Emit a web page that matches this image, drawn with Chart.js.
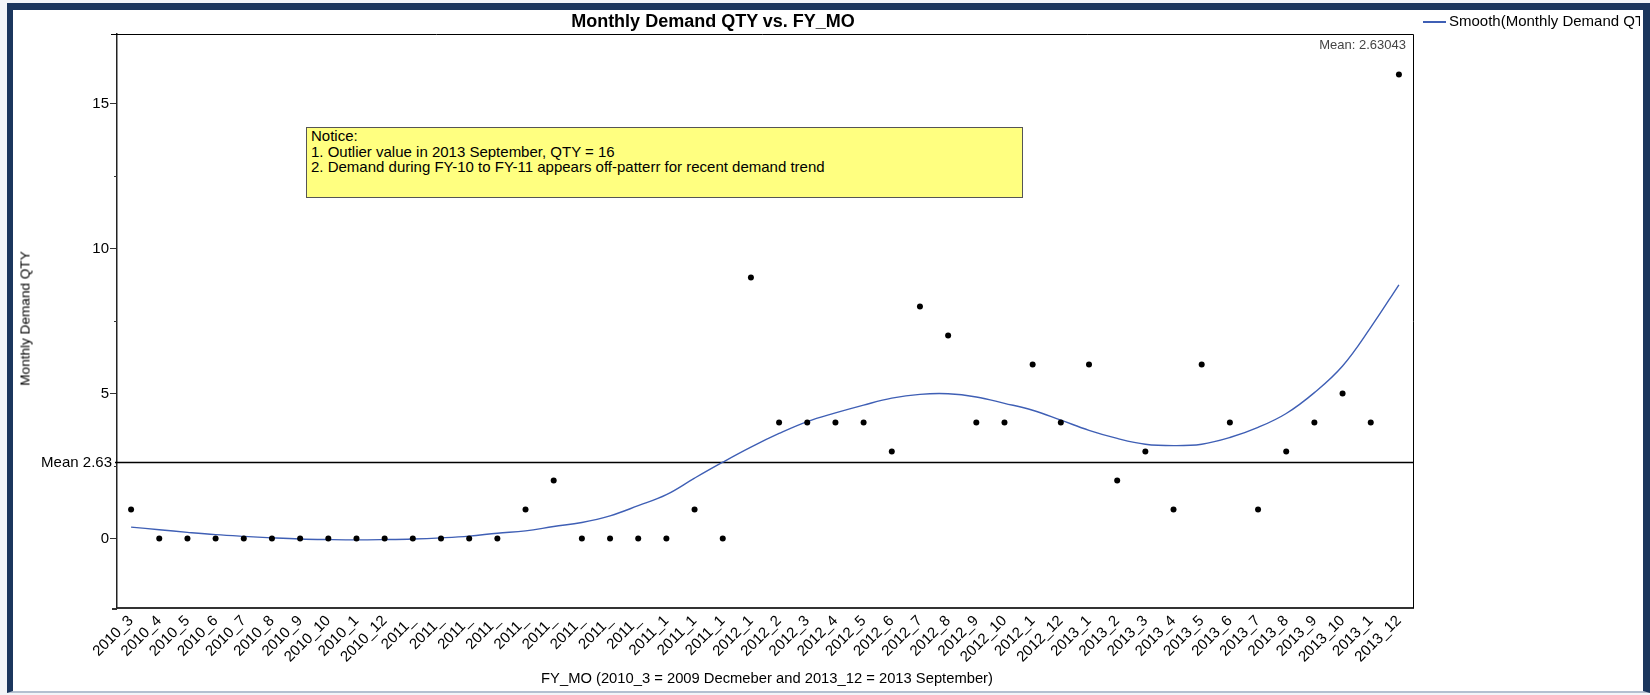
<!DOCTYPE html>
<html>
<head>
<meta charset="utf-8">
<script src="https://cdn.jsdelivr.net/npm/chart.js@4.4.1/dist/chart.umd.min.js"></script>
<style>
    html, body { margin: 0; padding: 0; background: #f3f5f8; }
    body { width: 1650px; height: 695px; position: relative; overflow: hidden; font-family: 'Liberation Sans', Arial, sans-serif; }
    #frame { position: absolute; left: 7px; top: 3px; width: 1630px; height: 681px; background: #fff;
             border-left: 6px solid #1b365d; border-top: 7px solid #1b365d; border-right: 7px solid #1b365d; border-bottom: 2px solid #b4c0d0; }
    #chart { position: absolute; left: 0; top: 0; }
    .txt { position: absolute; color: #000; white-space: nowrap; }
    #title { left: 413px; width: 600px; top: 11px; text-align: center; font-weight: bold; font-size: 18px; }
    #xtitle { left: 467px; width: 600px; top: 670px; text-align: center; font-size: 14.75px; }
    #ytitle { left: -125px; width: 300px; top: 311px; text-align: center; font-size: 13.6px; transform: rotate(-90deg); }
    #meanlbl { right: 244px; top: 37px; font-size: 13px; color: #444; }
    #legend { left: 1423px; top: 12px; width: 217px; overflow: hidden; font-size: 15px; }
    #legend .ln { display: inline-block; width: 23px; height: 1.5px; background: #3f5fb5; vertical-align: middle; margin-right: 3px; }
    #notice { position: absolute; left: 306px; top: 127px; width: 711px; height: 69px; background: #ffff80;
              border: 1px solid #555; padding: 0 0 0 4px; font-size: 15px; line-height: 15.5px; }
</style>
</head>
<body>
<div id="frame"></div>
<canvas id="chart" width="1650" height="695"></canvas>
<div class="txt" id="title">Monthly Demand QTY vs. FY_MO</div>
<div class="txt" id="xtitle">FY_MO (2010_3 = 2009 Decmeber and 2013_12 = 2013 September)</div>
<div class="txt" id="ytitle">Monthly Demand QTY</div>
<div class="txt" id="meanlbl">Mean: 2.63043</div>
<div class="txt" id="legend"><span class="ln"></span>Smooth(Monthly Demand QTY)</div>
<div id="notice">Notice:<br>1. Outlier value in 2013 September, QTY = 16<br>2. Demand during FY-10 to FY-11 appears off-patterr for recent demand trend</div>
<script>
// Categories as printed on the axis (some labels are cut short in the source)
const fyMonths = [
    '2010_3', '2010_4', '2010_5', '2010_6', '2010_7', '2010_8', '2010_9', '2010_10', '2010_1', '2010_12',
    '2011_', '2011_', '2011_', '2011_', '2011_', '2011_', '2011_', '2011_', '2011_', '2011_1', '2011_1', '2011_1',
    '2012_1', '2012_2', '2012_3', '2012_4', '2012_5', '2012_6', '2012_7', '2012_8', '2012_9', '2012_10', '2012_1', '2012_12',
    '2013_1', '2013_2', '2013_3', '2013_4', '2013_5', '2013_6', '2013_7', '2013_8', '2013_9', '2013_10', '2013_1', '2013_12'
];

const demandQty = [
    1, 0, 0, 0, 0, 0, 0, 0, 0, 0,
    0, 0, 0, 0, 1, 2, 0, 0, 0, 0, 1, 0,
    9, 4, 4, 4, 4, 3, 8, 7, 4, 4, 6, 4,
    6, 2, 3, 1, 6, 4, 1, 3, 4, 5, 4, 16
];

// Smooth(Monthly Demand QTY) read at each month
const smoothQty = [
    0.39, 0.30, 0.21, 0.13, 0.07, 0.02, -0.02, -0.04, -0.05, -0.04,
    -0.02, 0.02, 0.08, 0.18, 0.26, 0.41, 0.55, 0.78, 1.13, 1.51, 2.08, 2.63,
    3.15, 3.62, 4.03, 4.33, 4.60, 4.84, 4.97, 4.99, 4.88, 4.66, 4.42, 4.08,
    3.73, 3.45, 3.25, 3.20, 3.25, 3.48, 3.83, 4.31, 5.03, 5.95, 7.28, 8.75
];

const meanQty = 2.63043;
const meanLabel = 'Mean 2.63';
const yTickValues = [0, 2.5, 5, 7.5, 10, 12.5, 15];

const FONT = "'Liberation Sans', Arial, sans-serif";

// plot frame, mean reference line, minor ticks and mean label
const framePlugin = {
    id: 'plotFrame',
    beforeDatasetsDraw(chart) {
        const { ctx, chartArea: a, scales: { y } } = chart;
        ctx.save();
        const my = Math.round(y.getPixelForValue(meanQty)) + 0.5;
        ctx.strokeStyle = '#000';
        ctx.lineWidth = 1.5;
        ctx.beginPath();
        ctx.moveTo(a.left - 2, my);
        ctx.lineTo(a.right, my);
        ctx.stroke();

        ctx.lineWidth = 1;
        ctx.beginPath();
        ctx.moveTo(a.left - 6, a.top + 0.5);
        ctx.lineTo(a.right + 0.5, a.top + 0.5);
        ctx.lineTo(a.right + 0.5, a.bottom);
        ctx.stroke();

        // axis line runs a little past the y axis
        ctx.strokeStyle = '#333';
        ctx.lineWidth = 2;
        ctx.beginPath();
        ctx.moveTo(a.left - 5, a.bottom + 1);
        ctx.lineTo(a.left, a.bottom + 1);
        ctx.stroke();

        // short minor ticks
        ctx.lineWidth = 1;
        y.ticks.forEach((t) => {
            if (t.value % 5 === 0) return;
            const py = Math.round(y.getPixelForValue(t.value)) + 0.5;
            ctx.beginPath();
            ctx.moveTo(a.left - 3, py);
            ctx.lineTo(a.left, py);
            ctx.stroke();
        });

        ctx.fillStyle = '#000';
        ctx.font = '15px ' + FONT;
        ctx.textAlign = 'right';
        ctx.textBaseline = 'middle';
        ctx.fillText(meanLabel, a.left - 5, my);
        ctx.restore();
    }
};

new Chart(document.getElementById('chart').getContext('2d'), {
    data: {
        labels: fyMonths,
        datasets: [
            {
                type: 'line',
                label: 'Smooth(Monthly Demand QTY)',
                data: smoothQty,
                borderColor: '#3f5fb5',
                borderWidth: 1.4,
                pointRadius: 0,
                tension: 0.4,
                order: 2
            },
            {
                type: 'line',
                label: 'Monthly Demand QTY',
                data: demandQty,
                showLine: false,
                pointRadius: 3,
                pointBackgroundColor: '#000',
                pointBorderColor: '#000',
                pointBorderWidth: 0,
                order: 1
            }
        ]
    },
    options: {
        animation: false,
        responsive: false,
        devicePixelRatio: 1,
        layout: { padding: { left: 0, top: 34, right: 237, bottom: 0 } },
        plugins: {
            legend: { display: false },
            title: { display: false },
            tooltip: { enabled: false }
        },
        scales: {
            x: {
                type: 'category',
                offset: true,
                grid: { drawOnChartArea: false, drawTicks: false },
                border: { color: '#333', width: 2 },
                ticks: {
                    autoSkip: false,
                    maxRotation: 45,
                    minRotation: 45,
                    padding: 4,
                    color: '#000',
                    font: { family: FONT, size: 15 }
                },
                afterFit(scale) { scale.height = 87; }
            },
            y: {
                type: 'linear',
                min: -2.4,
                max: 17.4,
                grid: {
                    drawOnChartArea: false,
                    drawTicks: true,
                    tickLength: 7,
                    tickColor: (c) => (c.tick && c.tick.value % 5 === 0) ? '#333' : 'rgba(0,0,0,0)'
                },
                border: { color: '#222', width: 1.5 },
                ticks: {
                    padding: 1,
                    color: '#000',
                    font: { family: FONT, size: 15 },
                    callback: (v) => (v % 5 === 0 ? String(v) : '')
                },
                afterBuildTicks(scale) {
                    scale.ticks = yTickValues.map((v) => ({ value: v }));
                },
                afterFit(scale) { scale.width = 117; }
            }
        }
    },
    plugins: [framePlugin]
});
</script>
</body>
</html>
